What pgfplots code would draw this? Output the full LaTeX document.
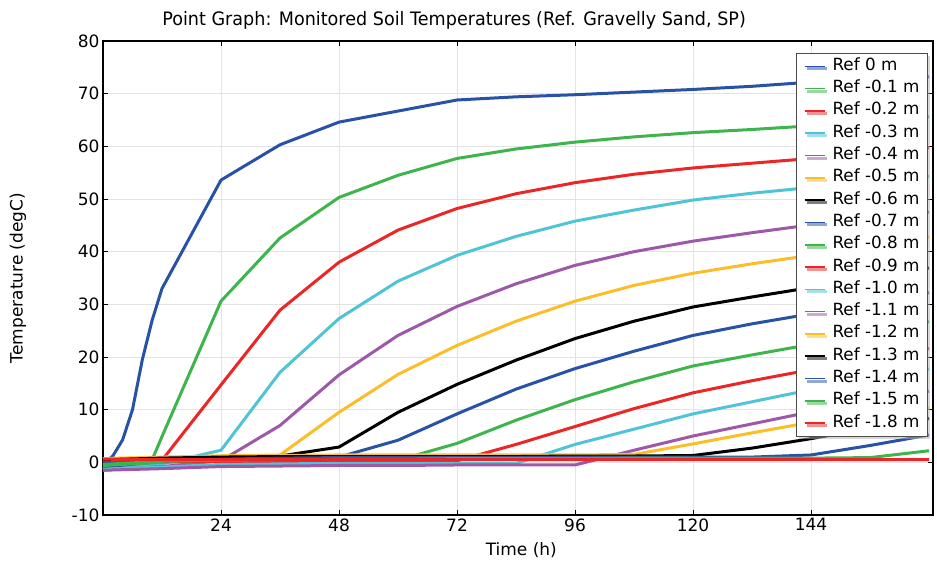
\documentclass[border=0pt]{standalone}
\usepackage{fontspec}
\setmainfont{DejaVu Sans}
\newfontfamily\condfont[FakeStretch=0.95]{DejaVu Sans}
\usepackage{pgfplots}
\pgfplotsset{compat=1.18}
\usetikzlibrary{shadows,calc}
\definecolor{cblue}{RGB}{40,82,166}
\definecolor{cgreen}{RGB}{62,180,76}
\definecolor{cred}{RGB}{236,38,38}
\definecolor{ccyan}{RGB}{80,196,214}
\definecolor{cpurple}{RGB}{158,88,170}
\definecolor{cyellow}{RGB}{252,190,40}
\definecolor{cblack}{RGB}{0,0,0}
\begin{document}
\begin{tikzpicture}
\path[use as bounding box] (-103pt,-48pt) rectangle (834pt,515pt);
\begin{axis}[
  at={(0pt,0pt)}, anchor=south west,
  scale only axis, width=830pt, height=474pt,
  xmin=0, xmax=168.8, ymin=-10, ymax=80,
  xtick={24,48,72,96,120,144}, ytick={-10,0,10,20,30,40,50,60,70,80},
  grid=major, grid style={draw=gray!22, line width=0.9pt},
  tick align=inside, major tick length=5pt,
  tick style={black, line width=1pt},
  axis line style={line width=1.2pt},
  tick label style={font=\fontsize{17}{20}\selectfont},
  /pgf/number format/assume math mode=true,
  clip mode=individual,
  every axis plot/.append style={line width=3pt, line join=round},
  legend cell align=left,
  legend image code/.code={\draw[#1, line width=1.6pt] (0pt,0pt) -- (20pt,0pt);},
  legend style={at={(rel axis cs:0.994,0.975)}, anchor=north east,
    draw=gray!60!black, line width=1pt, fill=white,
    font=\fontsize{16.8}{19}\selectfont, row sep=4.3pt, column sep=6pt,
    inner xsep=7pt, inner ysep=4pt,
    nodes={inner sep=1pt, text height=12pt, text depth=4pt},
    drop shadow={shadow xshift=2.5pt, shadow yshift=-2.5pt, fill=gray!60}},
]
\addplot[cblue] coordinates {(0,0.2)(1,0.4)(2,1.2)(4,4.3)(6,10)(8,19.5)(10,27)(12,33)(24,53.6)(36,60.3)(48,64.6)(60,66.7)(72,68.8)(84,69.4)(96,69.8)(108,70.3)(120,70.8)(132,71.4)(144,72.2)(156,72.7)(168,73.2)};
\addlegendentry{Ref 0 m}
\addplot[cgreen] coordinates {(0,-0.8)(6,-0.3)(10,0.5)(12,4.9)(24,30.6)(36,42.6)(48,50.3)(60,54.5)(72,57.7)(84,59.5)(96,60.8)(108,61.8)(120,62.6)(132,63.2)(144,63.9)(156,64.7)(168,65.6)};
\addlegendentry{Ref -0.1 m}
\addplot[cred] coordinates {(0,0.0)(12,0.4)(24,14.7)(36,28.9)(48,38.0)(60,44.1)(72,48.2)(84,51.0)(96,53.1)(108,54.7)(120,55.9)(132,56.8)(144,57.7)(156,58.7)(168,59.7)};
\addlegendentry{Ref -0.2 m}
\addplot[ccyan] coordinates {(0,-1.2)(12,-0.3)(24,2.3)(36,17.1)(48,27.3)(60,34.4)(72,39.3)(84,42.9)(96,45.8)(108,47.9)(120,49.8)(132,51.1)(144,52.2)(156,53.3)(168,54.3)};
\addlegendentry{Ref -0.3 m}
\addplot[cpurple] coordinates {(0,-1.5)(12,-0.8)(24,0.3)(36,7.0)(48,16.6)(60,24.1)(72,29.6)(84,33.9)(96,37.4)(108,40.0)(120,42.0)(132,43.6)(144,45.1)(156,46.4)(168,47.5)};
\addlegendentry{Ref -0.4 m}
\addplot[cyellow] coordinates {(0,0.7)(12,0.9)(24,1.2)(36,1.4)(48,9.5)(60,16.7)(72,22.2)(84,26.8)(96,30.6)(108,33.6)(120,35.9)(132,37.7)(144,39.3)(156,41.1)(168,42.8)};
\addlegendentry{Ref -0.5 m}
\addplot[cblack] coordinates {(0,0.5)(12,0.8)(24,1.0)(36,1.2)(48,2.9)(60,9.5)(72,14.8)(84,19.4)(96,23.5)(108,26.8)(120,29.5)(132,31.4)(144,33.2)(156,35.1)(168,36.9)};
\addlegendentry{Ref -0.6 m}
\addplot[cblue] coordinates {(0,-0.9)(12,0.2)(24,0.7)(36,0.9)(48,1.0)(60,4.2)(72,9.2)(84,13.9)(96,17.8)(108,21.1)(120,24.1)(132,26.3)(144,28.2)(156,30.2)(168,32.2)};
\addlegendentry{Ref -0.7 m}
\addplot[cgreen] coordinates {(0,-0.6)(12,0.0)(24,0.2)(36,0.3)(48,0.3)(60,0.4)(72,3.6)(84,8.0)(96,11.9)(108,15.3)(120,18.3)(132,20.4)(144,22.4)(156,24.6)(168,26.7)};
\addlegendentry{Ref -0.8 m}
\addplot[cred] coordinates {(0,0.3)(12,0.2)(24,0.2)(36,0.2)(48,0.2)(60,0.2)(72,0.3)(84,3.4)(96,6.8)(108,10.2)(120,13.2)(132,15.5)(144,17.6)(156,19.6)(168,21.6)};
\addlegendentry{Ref -0.9 m}
\addplot[ccyan] coordinates {(0,-1.3)(12,-0.9)(24,-0.4)(36,-0.3)(48,-0.2)(60,-0.2)(72,-0.2)(84,-0.2)(96,3.4)(108,6.3)(120,9.2)(132,11.5)(144,13.8)(156,15.8)(168,17.7)};
\addlegendentry{Ref -1.0 m}
\addplot[cpurple] coordinates {(0,-1.5)(12,-1.2)(24,-0.8)(36,-0.7)(48,-0.6)(60,-0.6)(72,-0.5)(84,-0.5)(96,-0.5)(108,2.3)(120,5.0)(132,7.3)(144,9.6)(156,11.6)(168,13.5)};
\addlegendentry{Ref -1.1 m}
\addplot[cyellow] coordinates {(0,0.7)(12,1.0)(24,1.2)(36,1.3)(48,1.4)(60,1.4)(72,1.4)(84,1.4)(96,1.4)(108,1.5)(120,3.5)(132,5.6)(144,7.6)(156,9.0)(168,10.3)};
\addlegendentry{Ref -1.2 m}
\addplot[cblack] coordinates {(0,0.5)(12,0.8)(24,1.0)(36,1.1)(48,1.1)(60,1.1)(72,1.1)(84,1.1)(96,1.2)(108,1.2)(120,1.3)(132,2.7)(144,4.5)(156,6.5)(168,8.3)};
\addlegendentry{Ref -1.3 m}
\addplot[cblue] coordinates {(0,-0.3)(12,0.3)(24,0.6)(36,0.8)(48,0.9)(60,0.9)(72,0.9)(84,0.9)(96,1.0)(108,1.0)(120,1.0)(132,1.0)(144,1.4)(156,3.2)(168,5.2)};
\addlegendentry{Ref -1.4 m}
\addplot[cgreen] coordinates {(0,-0.4)(12,0.2)(24,0.4)(36,0.5)(48,0.6)(60,0.6)(72,0.7)(84,0.7)(96,0.7)(108,0.8)(120,0.8)(132,0.8)(144,0.8)(156,0.9)(168,2.2)};
\addlegendentry{Ref -1.5 m}
\addplot[cred] coordinates {(0,0.6)(12,0.5)(24,0.5)(48,0.5)(72,0.5)(96,0.5)(120,0.5)(144,0.5)(168,0.5)};
\addlegendentry{Ref -1.8 m}
\node[font=\condfont\fontsize{18.5}{21}\selectfont] at (rel axis cs:0.423,1.044) {Point Graph: Monitored Soil Temperatures (Ref. Gravelly Sand, SP)};
\node[font=\fontsize{17}{20}\selectfont] at ($(rel axis cs:0.504,0)+(0pt,-35pt)$) {Time (h)};
\node[font=\fontsize{17}{20}\selectfont, rotate=90] at ($(rel axis cs:0,0.5)+(-85pt,0pt)$) {Temperature (degC)};
\end{axis}
\end{tikzpicture}
\end{document}
